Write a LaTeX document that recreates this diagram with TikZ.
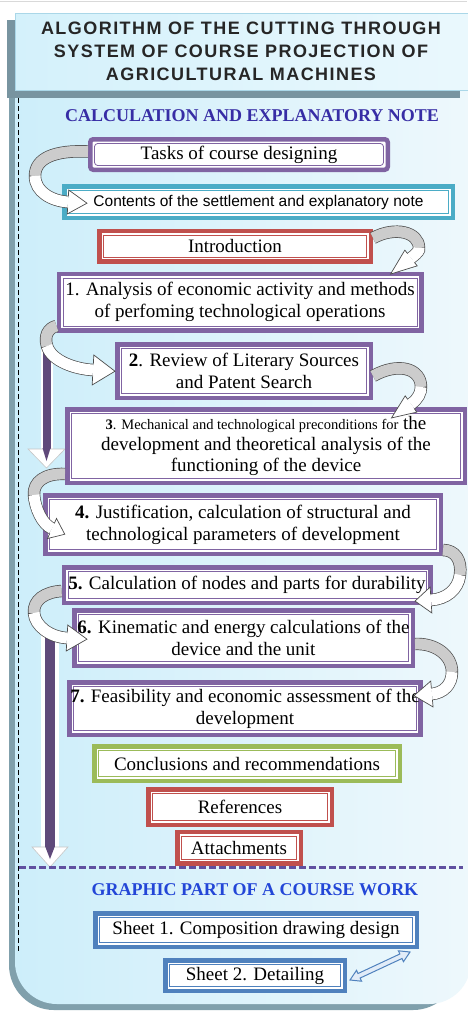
\documentclass[tikz,border=0pt]{standalone}
\usepackage{fontspec}
\setmainfont{Liberation Serif}
\newfontfamily\titlefont[LetterSpace=8]{Liberation Sans}
\newfontfamily\sansfont{Liberation Sans}
\usetikzlibrary{calc}
\definecolor{cpurple}{RGB}{128,100,162}
\definecolor{cteal}{RGB}{75,172,198}
\definecolor{cred}{RGB}{192,80,77}
\definecolor{cgreen}{RGB}{155,187,89}
\definecolor{cblue}{RGB}{79,129,189}
\definecolor{shaftc}{RGB}{95,73,122}
\definecolor{hdblue}{RGB}{55,45,165}
\definecolor{hdbluetwo}{RGB}{35,70,215}
\definecolor{panelL}{RGB}{205,238,250}
\definecolor{panelR}{RGB}{238,248,252}
\definecolor{shadowc}{RGB}{128,160,172}
\definecolor{tshadow}{RGB}{120,148,160}
\definecolor{titleL}{RGB}{212,241,251}
\definecolor{titleR}{RGB}{234,248,253}
\definecolor{titleB}{RGB}{170,215,232}
\definecolor{divc}{RGB}{96,80,160}
\definecolor{dafill}{RGB}{225,236,248}
\newcommand\myfs[2]{\fontsize{#1}{#2}\selectfont}
\newcommand\uturn[9]{%
 \coordinate (uS) at #1; \coordinate (uA) at #2; \coordinate (uB) at #3; \coordinate (uM) at #4;
 \coordinate (uC) at #5; \coordinate (uD) at #6; \coordinate (uE) at #7;
 \draw[line width=12.4pt, black!70] (uS) .. controls (uA) and (uB) .. (uM) .. controls (uC) and (uD) .. (uE);
 \draw[line width=11pt, gray!40] (uS) .. controls (uA) and (uB) .. (uM);
 \draw[line width=11pt, white] (uM) .. controls (uC) and (uD) .. (uE);
 \coordinate (uT) at ($(uE)!-#8pt!(uD)$);
 \coordinate (uP) at ($(uE)!#9pt!90:(uD)$);
 \coordinate (uQ) at ($(uE)!#9pt!-90:(uD)$);
 \coordinate (uPz) at ($(uE)!5.6pt!90:(uD)$);
 \coordinate (uQz) at ($(uE)!5.6pt!-90:(uD)$);
 \fill[white] (uP) -- (uT) -- (uQ) -- cycle;
 \draw[black!70, line width=0.7pt, line join=miter] (uPz) -- (uP) -- (uT) -- (uQ) -- (uQz);
}
\tikzset{
 boxbase/.style={line width=4.5pt, fill=white, inner sep=1pt, align=center, font=\myfs{19}{22}},
 framed/.style={draw=#1, path picture={\draw[#1, line width=0.8pt] ([shift={(4.3pt,-4.3pt)}]path picture bounding box.north west) rectangle ([shift={(-4.3pt,4.3pt)}]path picture bounding box.south east);}},
 headtxt/.style={font=\bfseries\myfs{18}{20}},
}
\begin{document}
\begin{tikzpicture}[x=1pt,y=-1pt]
\useasboundingbox (0,0) rectangle (467,1012);
\fill[white] (0,0) rectangle (467,1012);
\draw[gray!30, line width=1pt] (0,1.5) -- (467,1.5);
% panel
\fill[shadowc, rounded corners=45pt] (9,50) rectangle (458,1010);
\shade[left color=panelL, right color=panelR, rounded corners=42pt] (15,50) rectangle (471,1004);
\draw[black, line width=1pt, dash pattern=on 5pt off 3pt] (18.5,98) -- (18.5,952);
% title
\fill[tshadow] (7,20) rectangle (460,98);
\shade[left color=titleL, right color=titleR] (15,13) rectangle (470,90);
\draw[titleB, line width=0.8pt] (15,13) rectangle (470,90);
\node[font=\titlefont\bfseries\myfs{18}{23}, align=center, text=black!85] (title) at (241,51) {ALGORITHM OF THE CUTTING THROUGH\\SYSTEM OF COURSE PROJECTION OF\\AGRICULTURAL MACHINES};
\node[headtxt, text=hdblue] (calc) at (252,116) {CALCULATION AND EXPLANATORY NOTE};
% vertical arrows
\coordinate (vatop) at (46.5,345);
\coordinate (vbtop) at (50,632);
\fill[white] (40.5,345) rectangle (52.5,450);
\fill[shaftc] (42.5,345) rectangle (50.5,450);
\filldraw[white, draw=gray!45, line width=0.6pt] (28,449) -- (65,449) -- (46.5,468) -- cycle;
\fill[shaftc] (42.5,448) -- (50.5,448) -- (46.5,461) -- cycle;
\fill[white] (41,632) rectangle (59,848);
\fill[shaftc] (45,632) rectangle (55,848);
\filldraw[white, draw=gray!45, line width=0.6pt] (32,847) -- (68,847) -- (50,867) -- cycle;
\fill[shaftc] (45,846) -- (55,846) -- (50,859) -- cycle;
% boxes
\node[boxbase, framed=cpurple, rounded corners=3pt, minimum width=297.5pt, minimum height=30.5pt] (tasks) at (239,154.5) {Tasks of course designing};
\node[boxbase, framed=cteal, minimum width=388.5pt, minimum height=31.5pt, font=\sansfont\myfs{15.5}{18}] (contents) at (258.5,202) {Contents of the settlement and explanatory note};
\node[boxbase, framed=cred, minimum width=271.5pt, minimum height=30.5pt] (intro) at (235,246) {Introduction};
\node[boxbase, framed=cpurple, minimum width=362.5pt, minimum height=56.5pt] (b1) at (240,302) {1. Analysis of economic activity and methods\\of perfoming technological operations};
\node[boxbase, framed=cpurple, minimum width=253.5pt, minimum height=53.5pt] (b2) at (244,371) {\textbf{2}. Review of Literary Sources\\and Patent Search};
\node[boxbase, framed=cpurple, minimum width=397.5pt, minimum height=73.5pt, font=\myfs{19}{21}] (b3) at (266,446) {{\myfs{14.5}{21}\textbf{3}. Mechanical and technological preconditions for} the\\development and theoretical analysis of the\\functioning of the device};
\node[boxbase, framed=cpurple, minimum width=395.5pt, minimum height=58.5pt] (b4) at (243,524.5) {\textbf{4.} Justification, calculation of structural and\\technological parameters of development};
\node[boxbase, framed=cpurple, minimum width=366.5pt, minimum height=35.5pt] (b5) at (247,585) {\textbf{5.} Calculation of nodes and parts for durability};
\node[boxbase, framed=cpurple, minimum width=338.5pt, minimum height=55.5pt] (b6) at (243.5,638) {\textbf{6.} Kinematic and energy calculations of the\\device and the unit};
\node[boxbase, framed=cpurple, minimum width=349.5pt, minimum height=52.5pt] (b7) at (245,708.5) {\textbf{7.} Feasibility and economic assessment of the\\development};
\node[boxbase, framed=cgreen, minimum width=305.5pt, minimum height=34.5pt] (concl) at (247,763.5) {Conclusions and recommendations};
\node[boxbase, framed=cred, minimum width=183.5pt, minimum height=35.5pt] (refs) at (240,807) {References};
\node[boxbase, framed=cred, minimum width=123.5pt, minimum height=31.5pt] (attach) at (239,847.5) {Attachments};
\draw[divc, line width=3pt, dash pattern=on 7pt off 3pt] (19,867.5) -- (463,867.5);
\node[headtxt, text=hdbluetwo] (graph) at (255,890) {GRAPHIC PART OF A COURSE WORK};
\node[boxbase, framed=cblue, minimum width=321.5pt, minimum height=33.5pt] (sheet1) at (256,930) {Sheet 1. Composition drawing design};
\node[boxbase, framed=cblue, minimum width=179.5pt, minimum height=30.5pt] (sheet2) at (255,975.5) {Sheet 2. Detailing};
% curved arrows
\uturn{($(tasks.west)+(0,-3)$)}{(55,150)}{(35,158)}{(35,176)}{(35,192)}{(52,201)}{($(contents.west)+(6,0)$)}{19}{12}
\uturn{($(intro.east)+(0,-8)$)}{(395,226)}{(419,232)}{(419,248)}{(419.5,250.5)}{(418,252.5)}{($(b1.north east)+(-12.5,-13.5)$)}{26}{10}
\uturn{($(b1.west)+(0,24)$)}{(48,328)}{(44,336)}{(47,346)}{(51.5,361)}{(75,369)}{($(b2.west)+(-22,-1)$)}{22}{15}
\uturn{($(b2.east)+(0,5)$)}{(398,362)}{(421,368)}{(421,387)}{(421,393)}{(418,399)}{($(b3.north east)+(-56,-3)$)}{24}{10}
\uturn{($(b3.south west)+(0,-11)$)}{(45,473)}{(33,482)}{(34,495)}{(35,508)}{(42,524)}{($(b4.west)+(9,4)$)}{14}{11}
\uturn{($(b4.south east)+(0,-6)$)}{(455,550)}{(462,560)}{(460,575)}{(458,590)}{(446,599)}{($(b5.east)+(-1.5,15)$)}{16}{13}
\uturn{($(b5.west)+(0,6)$)}{(45,592)}{(33,600)}{(34,613)}{(35,626)}{(50,637)}{($(b6.west)+(-5,0)$)}{20}{13}
\uturn{($(b6.east)+(0,6)$)}{(435,643)}{(452,655)}{(452,672)}{(452,685)}{(443,693)}{($(b7.east)+(9,-14.5)$)}{18}{13}
% double arrow between sheets
\coordinate (da) at ($(sheet2.east)+(3,4.5)$);
\coordinate (db) at ($(sheet1.south east)+(-9,3)$);
\filldraw[fill=dafill, draw=cblue, line width=1pt, line join=miter]
 (da) -- ($(da)!10pt!(db)!6pt!90:(db)$) -- ($(da)!10pt!(db)!2.5pt!90:(db)$)
 -- ($(db)!10pt!(da)!2.5pt!-90:(da)$) -- ($(db)!10pt!(da)!6pt!-90:(da)$) -- (db)
 -- ($(db)!10pt!(da)!6pt!90:(da)$) -- ($(db)!10pt!(da)!2.5pt!90:(da)$)
 -- ($(da)!10pt!(db)!2.5pt!-90:(db)$) -- ($(da)!10pt!(db)!6pt!-90:(db)$) -- cycle;
\end{tikzpicture}
\end{document}
